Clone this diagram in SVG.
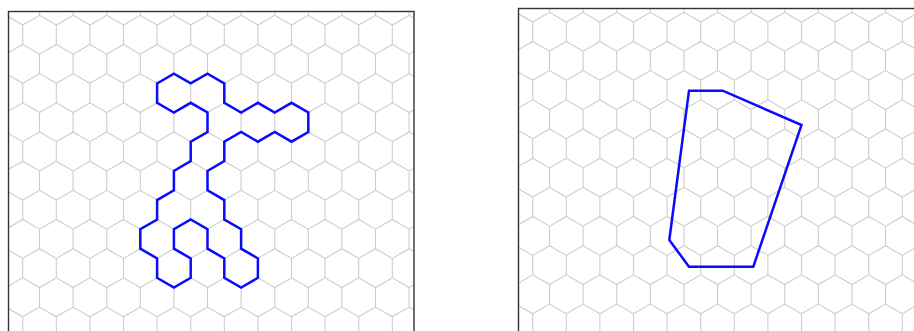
<svg xmlns="http://www.w3.org/2000/svg" xmlns:xlink="http://www.w3.org/1999/xlink" width="914" height="331" viewBox="0 0 914 331">
  <style>
    .grid { fill: none; stroke: #cdcdcd; stroke-width: 1.1; }
    .frame { fill: none; stroke: #333333; stroke-width: 1.4; }
    .route { fill: none; stroke: #0a0aff; stroke-width: 2.5; stroke-linejoin: miter; }
  </style>
  <defs>
    <clipPath id="panelClip" clipPathUnits="userSpaceOnUse">
      <rect x="8.5" y="11.5" width="405.5" height="330"/>
    </clipPath>
    <path id="row" class="grid" d="M0,-9.725 l16.8,-9.725 16.8,9.725 16.8,-9.725 16.8,9.725 16.8,-9.725 16.8,9.725 16.8,-9.725 16.8,9.725 16.8,-9.725 16.8,9.725 16.8,-9.725 16.8,9.725 16.8,-9.725 16.8,9.725 16.8,-9.725 16.8,9.725 16.8,-9.725 16.8,9.725 16.8,-9.725 16.8,9.725 16.8,-9.725 16.8,9.725 16.8,-9.725 16.8,9.725 16.8,-9.725 16.8,9.725 16.8,-9.725 16.8,9.725 M0,-9.725 v19.45 m33.6,-19.45 v19.45 m33.6,-19.45 v19.45 m33.6,-19.45 v19.45 m33.6,-19.45 v19.45 m33.6,-19.45 v19.45 m33.6,-19.45 v19.45 m33.6,-19.45 v19.45 m33.6,-19.45 v19.45 m33.6,-19.45 v19.45 m33.6,-19.45 v19.45 m33.6,-19.45 v19.45 m33.6,-19.45 v19.45 m33.6,-19.45 v19.45 m33.6,-19.45 v19.45"/>
    <g id="hexgrid">
      <use xlink:href="#row" href="#row" transform="translate(-27.7,5.55)"/>
      <use xlink:href="#row" href="#row" transform="translate(-10.9,34.725)"/>
      <use xlink:href="#row" href="#row" transform="translate(-27.7,63.9)"/>
      <use xlink:href="#row" href="#row" transform="translate(-10.9,93.075)"/>
      <use xlink:href="#row" href="#row" transform="translate(-27.7,122.25)"/>
      <use xlink:href="#row" href="#row" transform="translate(-10.9,151.425)"/>
      <use xlink:href="#row" href="#row" transform="translate(-27.7,180.6)"/>
      <use xlink:href="#row" href="#row" transform="translate(-10.9,209.775)"/>
      <use xlink:href="#row" href="#row" transform="translate(-27.7,238.95)"/>
      <use xlink:href="#row" href="#row" transform="translate(-10.9,268.125)"/>
      <use xlink:href="#row" href="#row" transform="translate(-27.7,297.3)"/>
      <use xlink:href="#row" href="#row" transform="translate(-10.9,326.475)"/>
    </g>
  </defs>
  <rect x="0" y="0" width="914" height="331" fill="#ffffff"/>

  <g id="panel-left">
    <g clip-path="url(#panelClip)">
      <use xlink:href="#hexgrid" href="#hexgrid"/>
    </g>
    <rect class="frame" x="8.5" y="11.5" width="405.5" height="330"/>
  </g>

  <g id="panel-right" transform="translate(510,-3)">
    <g clip-path="url(#panelClip)">
      <use xlink:href="#hexgrid" href="#hexgrid"/>
    </g>
    <rect class="frame" x="8.5" y="11.5" width="405.5" height="330"/>
  </g>

  <g id="connectors">
    <path id="hex-route" class="route" d="M157.1,83.35 L157.1,102.8 173.9,112.53 190.7,102.8 207.5,112.53 207.5,131.98 190.7,141.7 190.7,161.15 173.9,170.88 173.9,190.33 157.1,200.05 157.1,219.5 140.3,229.23 140.3,248.68 157.1,258.4 157.1,277.85 173.9,287.58 190.7,277.85 190.7,258.4 173.9,248.68 173.9,229.23 190.7,219.5 207.5,229.23 207.5,248.68 224.3,258.4 224.3,277.85 241.1,287.58 257.9,277.85 257.9,258.4 241.1,248.68 241.1,229.23 224.3,219.5 224.3,200.05 207.5,190.33 207.5,170.88 224.3,161.15 224.3,141.7 241.1,131.98 257.9,141.7 274.7,131.98 291.5,141.7 308.3,131.98 308.3,112.53 291.5,102.8 274.7,112.53 257.9,102.8 241.1,112.53 224.3,102.8 224.3,83.35 207.5,73.63 190.7,83.35 173.9,73.63 Z"/>
    <polygon id="hull" class="route" points="689,90.7 722.7,90.7 801.5,125 753.3,266.7 689,266.7 669.3,240"/>
  </g>
</svg>
